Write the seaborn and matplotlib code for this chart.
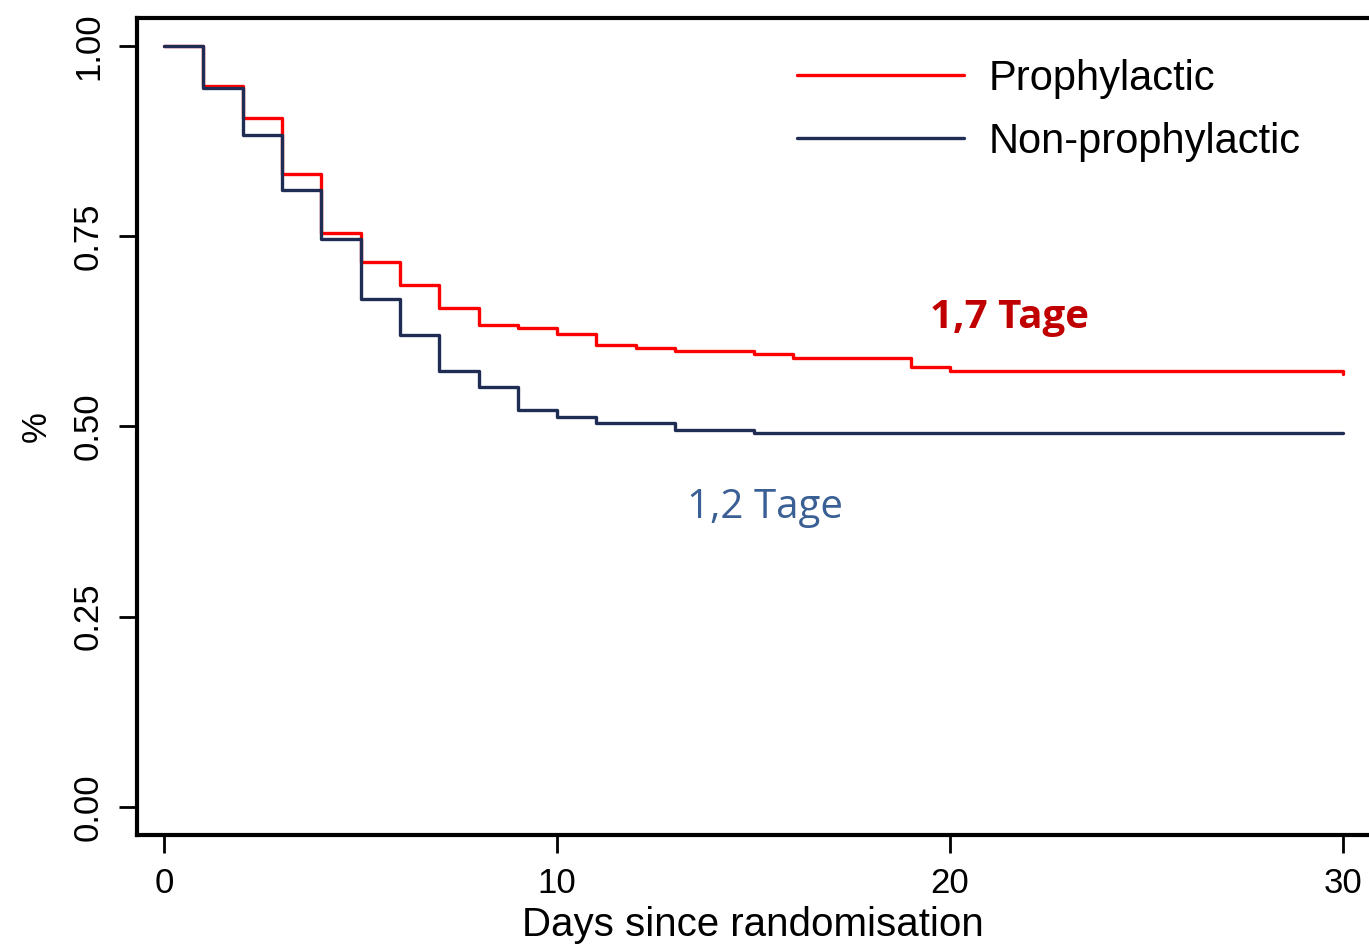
import matplotlib
matplotlib.use("Agg")
import matplotlib.pyplot as plt
from matplotlib import font_manager
import pandas as pd
import seaborn as sns

# Kaplan-Meier style step data
days_proph = [0, 1, 2, 3, 4, 5, 6, 7, 8, 9, 10, 11, 12, 13, 15, 16, 19, 20, 30]
surv_proph = [1.0, 0.948, 0.905, 0.832, 0.754, 0.716, 0.686, 0.656, 0.633, 0.629,
              0.621, 0.607, 0.603, 0.599, 0.595, 0.590, 0.578, 0.573, 0.569]

days_non = [0, 1, 2, 3, 4, 5, 6, 7, 8, 9, 10, 11, 13, 15, 30]
surv_non = [1.0, 0.945, 0.883, 0.811, 0.746, 0.668, 0.620, 0.573, 0.552, 0.522,
            0.513, 0.505, 0.495, 0.491, 0.491]

groups = ["Prophylactic", "Non-prophylactic"]
x_ticks = [0, 10, 20, 30]
y_ticks = [0.00, 0.25, 0.50, 0.75, 1.00]
y_tick_labels = ["0.00", "0.25", "0.50", "0.75", "1.00"]

df = pd.concat([
    pd.DataFrame({"day": days_proph, "surv": surv_proph, "group": groups[0]}),
    pd.DataFrame({"day": days_non, "surv": surv_non, "group": groups[1]}),
], ignore_index=True)

sns.set_style("white")
installed = {f.name for f in font_manager.fontManager.ttflist}
narrow = "Liberation Sans Narrow" if "Liberation Sans Narrow" in installed else "Liberation Sans"
plt.rcParams["font.family"] = [narrow, "DejaVu Sans"]

fig = plt.figure(figsize=(13.69, 9.52), dpi=100)
ax = fig.add_axes([137 / 1369, 117 / 952, 1 - 137 / 1369, 817 / 952])

sns.lineplot(data=df, x="day", y="surv", hue="group", hue_order=groups,
             palette={"Prophylactic": "#ff0000", "Non-prophylactic": "#1f2d55"},
             drawstyle="steps-post", estimator=None, linewidth=2.4, ax=ax)

ax.set_xlim(-0.69, 30.66)
ax.set_ylim(-0.037, 1.037)
ax.set_xticks(x_ticks)
ax.set_yticks(y_ticks)
ax.set_yticklabels(y_tick_labels, rotation=90, va="center")
ax.tick_params(axis="both", direction="out", length=13, width=2, color="black",
               labelsize=25, pad=10, bottom=True, left=True, labelcolor="black")

for side in ["left", "bottom", "top"]:
    ax.spines[side].set_linewidth(3)
    ax.spines[side].set_color("black")
ax.spines["right"].set_visible(False)

ax.set_xlabel("Days since randomisation", fontsize=29, labelpad=4, color="black")
ax.set_ylabel("%", fontsize=25, labelpad=14, color="black")

handles, labels = ax.get_legend_handles_labels()
leg = ax.legend(handles, labels, loc="upper left", bbox_to_anchor=(0.536, 0.950),
                frameon=False, fontsize=30, handlelength=4.0, handletextpad=0.6,
                labelspacing=0.55, borderpad=0, borderaxespad=0)
for t in leg.get_texts():
    t.set_color("black")

ax.text(21.5, 0.643, "1,7 Tage", color="#c00000", fontsize=29, fontweight="bold",
        family=["Open Sans", "DejaVu Sans"], ha="center", va="center")
ax.text(15.3, 0.393, "1,2 Tage", color="#3a5f94", fontsize=29,
        family=["Open Sans", "DejaVu Sans"], ha="center", va="center")

fig.savefig("out.png", dpi=100)
